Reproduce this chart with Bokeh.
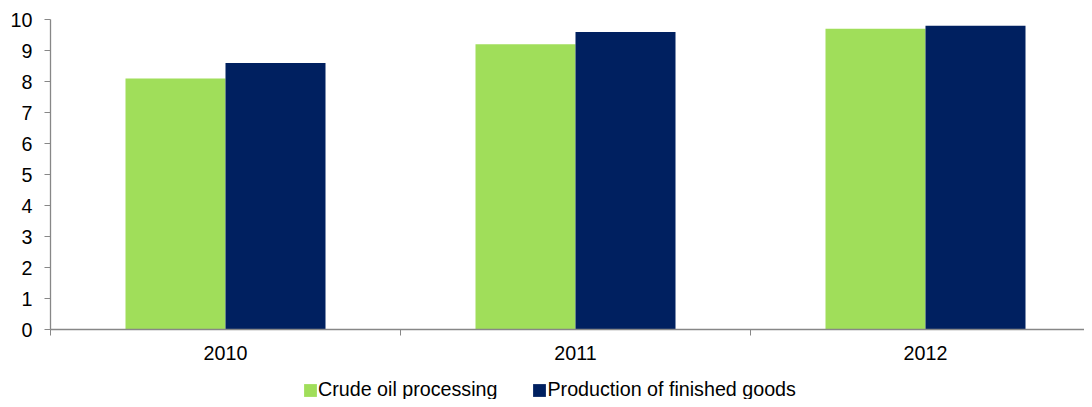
from bokeh.plotting import figure
from bokeh.layouts import column
from bokeh.models import Range1d, FixedTicker, ColumnDataSource, Legend, LegendItem
from bokeh.transform import dodge
from bokeh.embed import file_html
from bokeh.resources import INLINE

# ---- data ----
years = ["2010", "2011", "2012"]
crude = [8.1, 9.2, 9.7]
finished = [8.6, 9.6, 9.8]
y_ticks = list(range(0, 11))
series_names = ["Crude oil processing", "Production of finished goods"]
colors = ["#A0DE5A", "#002060"]

FONT = "Liberation Sans"
FS = "19.7px"
AXIS_COLOR = "#878787"

W = 1084
H_MAIN, H_LEG = 372, 27
LEFT, TOP, BOTTOM = 50, 19, 43
CAT_PX = 350  # pixels per category

centers = [i + 0.5 for i in range(len(years))]
bar_w = 100 / CAT_PX
src = ColumnDataSource(dict(x=centers, crude=crude, finished=finished))

p = figure(width=W, height=H_MAIN, output_backend="svg", toolbar_location=None,
           x_range=Range1d(0, (W - LEFT) / CAT_PX), y_range=Range1d(0, 10),
           min_border_left=LEFT, min_border_right=0, min_border_top=TOP,
           min_border_bottom=BOTTOM)
p.outline_line_color = None
p.grid.visible = False
p.background_fill_color = "white"
p.border_fill_color = "white"

p.vbar(x=dodge("x", -bar_w / 2, range=p.x_range), top="crude", width=bar_w,
       source=src, fill_color=colors[0], line_color=None)
p.vbar(x=dodge("x", bar_w / 2, range=p.x_range), top="finished", width=bar_w,
       source=src, fill_color=colors[1], line_color=None)

# x axis
xa = p.xaxis[0]
xa.ticker = FixedTicker(ticks=centers, minor_ticks=list(range(len(years))))
xa.major_label_overrides = {c: y for c, y in zip(centers, years)}
xa.major_tick_line_color = None
xa.minor_tick_line_color = AXIS_COLOR
xa.minor_tick_out = 6
xa.minor_tick_in = 0
xa.axis_line_color = AXIS_COLOR
xa.axis_line_width = 1.3
xa.major_label_standoff = 10
xa.major_label_text_font = FONT
xa.major_label_text_font_size = FS
xa.major_label_text_color = "black"

# y axis
ya = p.yaxis[0]
ya.ticker = FixedTicker(ticks=y_ticks)
ya.major_tick_line_color = AXIS_COLOR
ya.major_tick_out = 6
ya.major_tick_in = 0
ya.minor_tick_line_color = None
ya.axis_line_color = AXIS_COLOR
ya.axis_line_width = 1.3
ya.major_label_standoff = 12
ya.major_label_text_font = FONT
ya.major_label_text_font_size = FS
ya.major_label_text_color = "black"

# ---- legend strip (its frame aligns with the main frame in the column) ----
q = figure(width=W, height=H_LEG, output_backend="svg", toolbar_location=None,
           x_range=p.x_range, y_range=Range1d(50, 51),
           x_axis_type=None, y_axis_type=None, min_border=0)
q.outline_line_color = None
q.grid.visible = False
q.background_fill_color = "white"
q.border_fill_color = "white"
# same series, lying entirely below this strip's view, only so the legend has swatches
l1 = q.vbar(x="x", top="crude", width=bar_w, source=src,
            fill_color=colors[0], line_color=None)
l2 = q.vbar(x="x", top="finished", width=bar_w, source=src,
            fill_color=colors[1], line_color=None)
legend = Legend(items=[LegendItem(label=series_names[0], renderers=[l1]),
                       LegendItem(label=series_names[1], renderers=[l2])],
                orientation="horizontal", location=(252, -2),
                glyph_width=16, glyph_height=16, label_standoff=0, spacing=34,
                padding=0, margin=0, border_line_color=None,
                background_fill_alpha=0,
                label_text_font=FONT, label_text_font_size=FS,
                label_text_color="black")
q.add_layout(legend, "center")

layout = column(p, q, spacing=0)
open("out.html", "w").write(file_html(layout, INLINE))
